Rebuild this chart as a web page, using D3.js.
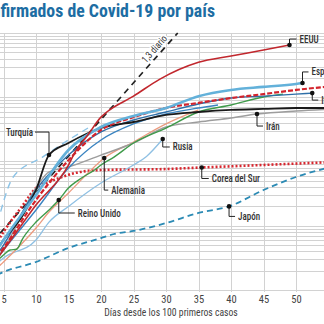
<!DOCTYPE html>
<html><head><meta charset="utf-8">
<script src="https://cdn.jsdelivr.net/npm/d3@7"></script>
<style>body{margin:0;background:#fff} svg{display:block}</style>
</head><body>
<svg id="c" width="324" height="324"></svg>
<script>
// ---- data: [day since 100th case, confirmed cases] ----
const eeuu = [[0,100],[5,420],[10,2100],[15,8800],[16,14000],[18,26000],[20,49000],[21,60000],[25,104000],[29,190000],[35,350000],[40,438000],[45,544000],[49,650000]];
const espana = [[0,100],[5,600],[10,3010],[15,15100],[20,34400],[25,51000],[30,68000],[35,104000],[40,130000],[45,145000],[50,161000],[51,167000]];
const italia = [[0,100],[5,500],[10,3600],[15,12600],[20,28800],[25,44300],[30,58900],[35,78500],[40,97300],[45,104000],[50,112000],[52.5,116000]];
const francia = [[0,100],[5,450],[10,2516],[15,10500],[20,30900],[25,49000],[30,68000],[35,81700],[40,97000],[45,112000],[50,130000],[56,150000]];
const turquia = [[0,100],[5,600],[8,1470],[10,3600],[12,12600],[15,19400],[20,33200],[25,41200],[30,53000],[35,58900],[40,63400],[45,65700],[50,68000],[56,68000]];
const iran = [[0,100],[5,420],[10,3870],[12,6870],[15,8200],[20,12600],[25,19400],[30,34400],[35,41200],[40,47600],[44,54800],[50,61100],[56,65600]];
const rusia = [[0,100],[5,315],[10,600],[12,1140],[15,2000],[20,4630],[25,8830],[27,12000],[29.5,22400]];
const alemania = [[0,100],[5,273],[10,922],[12,1636],[15,3240],[18,6620],[20.5,11300],[25,20100],[30,38400],[35,63400]];
const reinoUnido = [[0,100],[5,350],[6,420],[7,430],[8,644],[10,1140],[12,1758],[13.5,2516],[15,3870],[17,5530],[19,7380],[20,8830],[22,11700],[25,19400],[30,33200],[35,58900],[40,75700],[45,101000],[48,112000]];
const corea = [[0,100],[5,800],[8,2100],[10,3870],[12,4800],[14,5740],[16,6620],[20,7380],[30,7640],[35.5,8070],[45,8830],[56,9820]];
const japon = [[0,100],[5,191],[10,273],[15,451],[20,644],[22,744],[25,829],[30,1100],[35,1580],[39.7,2000],[45,3600],[50,5740],[56,8500]];
const china = [[0,100],[3,502],[6.5,5740],[11,11700],[15,21600],[18,33200]];
const belgica = [[0,100],[5,420],[10,1758],[15,7920],[20,21600],[25,38400],[30,54800],[35,68000],[38,75700]];
const ritmo13 = [[0,236],[31.8,1000000]];   // referencia: x1,3 diario
const xTicks = [5,10,15,20,25,30,35,40,45,50,55];
const title = "Casos confirmados de Covid-19 por país";
const xTitle = "Días desde los 100 primeros casos";

// ---- config ----
const series = [
  {name:"Japón", data:japon, color:"#2b8ab4", width:1.8, dash:"6,4"},
  {name:"Corea del Sur", data:corea, color:"#d7262e", width:2.6, dash:"2,2"},
  {name:"Rusia", data:rusia, color:"#8fc0e3", width:1.3},
  {name:"Alemania", data:alemania, color:"#ec9c80", width:1.3},
  {name:"Irán", data:iran, color:"#9d9d9d", width:1.4},
  {name:"Reino Unido", data:reinoUnido, color:"#3f9b4a", width:1.4},
  {name:"China", data:china, color:"#8cc3e6", width:1.4, dash:"7,5"},
  {name:"Bélgica", data:belgica, color:"#3a84c1", width:1.4},
  {name:"Italia", data:italia, color:"#2e6fa8", width:1.4},
  {name:"Turquía", data:turquia, color:"#1a1a1a", width:1.8},
  {name:"Francia", data:francia, color:"#d3232c", width:2.2, dash:"5,2"},
  {name:"España", data:espana, color:"#63b1da", width:2.6},
  {name:"EEUU", data:eeuu, color:"#c1272d", width:1.6}
];
const labels = [
  {name:"EEUU", day:49, dy:-6, dx:7},
  {name:"España", day:51, dy:-11, dx:6},
  {name:"Italia", day:52.5, dy:7, dx:6},
  {name:"Irán", day:44, dy:12, dx:6},
  {name:"Rusia", day:29.5, dy:8, dx:7},
  {name:"Corea del Sur", day:35.5, dy:11, dx:7},
  {name:"Japón", day:39.7, dy:10, dx:6},
  {name:"Alemania", day:20.5, dy:32, dx:4},
  {name:"Reino Unido", day:13.5, dy:13, dx:16},
  {name:"Turquía", day:12, dy:-23, dx:-14}
];

const W = 324, H = 324;
const narrow = "'Liberation Sans Narrow','Arial Narrow','Roboto Condensed','DejaVu Sans Condensed',sans-serif";
const svg = d3.select("#c");
const x = d3.scaleLinear().domain([0,55]).range([-29, 328.5]);
const y = d3.scaleLog().domain([100,1e6]).range([290,33]);

function condense(sel, f){
  sel.each(function(){
    const len = this.getComputedTextLength();
    d3.select(this).attr("textLength", len*f).attr("lengthAdjust","spacingAndGlyphs");
  });
}

svg.append("defs").append("clipPath").attr("id","clip")
  .append("rect").attr("x",-40).attr("y",y(1e6)-1).attr("width",W+80).attr("height",y(100)-y(1e6)+1);

// grid
const grid = svg.append("g");
grid.selectAll("line.h").data(y.ticks()).join("line")
  .attr("x1",0).attr("x2",W).attr("y1",d=>Math.round(y(d))+0.5).attr("y2",d=>Math.round(y(d))+0.5)
  .attr("stroke","#d2d2d2").attr("stroke-width",1);
grid.selectAll("line.v").data(xTicks).join("line")
  .attr("x1",d=>Math.round(x(d))+0.5).attr("x2",d=>Math.round(x(d))+0.5)
  .attr("y1",y(1e6)).attr("y2",y(100)+2)
  .attr("stroke","#d2d2d2").attr("stroke-width",1);

// axis
const ax = svg.append("g").attr("transform",`translate(0,${y(100)})`)
  .call(d3.axisBottom(x).tickValues(xTicks).tickSize(0).tickPadding(6));
ax.select(".domain").remove();
ax.selectAll("text").attr("font-family",narrow).attr("font-size",10.5).attr("fill","#444");

const xt = svg.append("text").attr("x",171).attr("y",316).attr("text-anchor","middle")
  .attr("font-family",narrow).attr("font-size",11).attr("fill","#444").text(xTitle);
condense(xt, 0.88);

// lines
const plot = svg.append("g").attr("clip-path","url(#clip)");
const line = d3.line().x(d=>x(d[0])).y(d=>y(d[1])).curve(d3.curveMonotoneX);

// reference 1.3 line
plot.append("path").datum(ritmo13).attr("d",d3.line().x(d=>x(d[0])).y(d=>y(d[1])))
  .attr("fill","none").attr("stroke","#222").attr("stroke-width",1.7).attr("stroke-dasharray","6,5");

series.forEach(s=>{
  plot.append("path").datum(s.data).attr("d",line)
    .attr("fill","none").attr("stroke",s.color).attr("stroke-width",s.width)
    .attr("stroke-dasharray",s.dash||null).attr("stroke-linejoin","round");
});

// 1,3 diario label
{
  const a = ritmo13[0], b = ritmo13[1];
  const ang = Math.atan2(y(b[1])-y(a[1]), x(b[0])-x(a[0]))*180/Math.PI;
  const d = 29;
  const v = a[1]*Math.pow(b[1]/a[1], (d-a[0])/(b[0]-a[0]));
  const t = svg.append("text").attr("transform",`translate(${x(d)},${y(v)}) rotate(${ang})`)
    .attr("x",0).attr("y",-7).attr("text-anchor","middle").attr("dominant-baseline","central")
    .attr("font-family",narrow).attr("font-size",10).attr("fill","#333")
    .attr("stroke","#fff").attr("stroke-width",3).attr("paint-order","stroke")
    .text("1,3 diario");
  condense(t, 0.9);
}

// labels
const lab = svg.append("g");
labels.forEach(l=>{
  const s = series.find(q=>q.name===l.name);
  const p = s.data.find(q=>q[0]===l.day);
  const px = x(p[0]), py = y(p[1]);
  const ex = px + l.dx, ey = py + l.dy;
  lab.append("path").attr("d",`M${px},${py}V${ey}H${ex}`)
    .attr("fill","none").attr("stroke","#222").attr("stroke-width",1);
  lab.append("circle").attr("cx",px).attr("cy",py).attr("r",2.3).attr("fill","#111");
  const t = lab.append("text").attr("x", ex + (l.dx<0?-2:3)).attr("y",ey)
    .attr("text-anchor", l.dx<0?"end":"start").attr("dominant-baseline","central")
    .attr("font-family",narrow).attr("font-size",10.5).attr("font-weight",500).attr("fill","#333").text(l.name);
  condense(t, 0.86);
});

// title
svg.append("text").attr("x",-73).attr("y",17).attr("textLength",288).attr("lengthAdjust","spacingAndGlyphs")
  .attr("font-family",narrow).attr("font-weight","bold").attr("font-size",17.5).attr("fill","#1d6da3").text(title);
</script>
</body></html>
